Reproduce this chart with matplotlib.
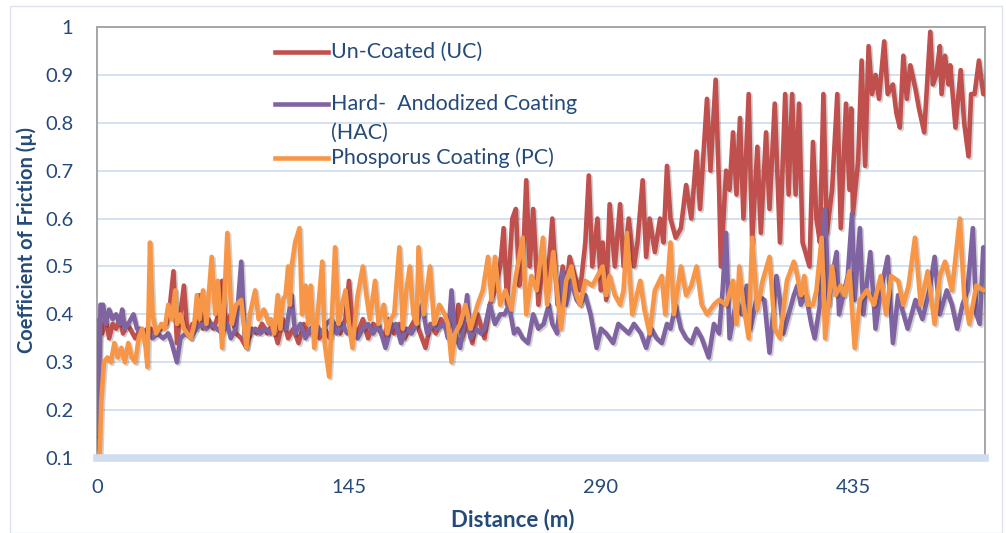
import matplotlib
matplotlib.use("Agg")
import matplotlib.pyplot as plt
import matplotlib.patheffects as pe
from matplotlib.lines import Line2D
from matplotlib.patches import Rectangle

###############################################################################
# Data (distance in m, coefficient of friction)

uc_dist = [0, 1.5, 3, 5, 7, 9, 11, 13, 15, 17, 19, 22, 25, 28, 31, 34, 37, 40, 42, 44,
           46, 48, 50, 52, 55, 57, 59, 61, 64, 67, 70, 72, 74, 77, 80, 83, 86, 89, 92, 95,
           98, 101, 104, 107, 110, 113, 116, 119, 122, 125, 128, 131, 134, 137, 140, 143,
           145, 147, 150, 153, 156, 159, 162, 165, 168, 171, 174, 177, 180, 183, 186, 189,
           192, 195, 198, 201, 204, 206, 208, 210, 213, 216, 219, 223, 226, 229, 232, 234,
           236, 239, 241, 243, 245, 247, 249, 251, 254, 257, 259, 262, 265, 268, 270, 272,
           275, 278, 281, 283, 285, 288, 290, 291, 293, 295, 298, 301, 303, 306, 309, 311,
           314, 316, 318, 321, 324, 326, 328, 330, 333, 336, 339, 342, 345, 347, 351, 353,
           356, 358, 359, 362, 364, 366, 368, 370, 372, 375, 377, 380, 382, 385, 387, 390,
           393, 396, 398, 400, 402, 404, 406, 410, 412, 414, 416, 418, 420, 423, 426, 428,
           431, 433, 434, 435, 438, 440, 442, 444, 446, 448, 450, 453, 455, 458, 460, 462,
           464, 466, 468, 471, 473, 476, 479.5, 481, 483, 485, 486, 488, 490, 491, 494, 497,
           499, 501.5, 503, 505, 507.5, 510]
uc_cof = [0.12, 0.39, 0.36, 0.39, 0.35, 0.38, 0.37, 0.39, 0.36, 0.38, 0.37, 0.35, 0.37, 0.36,
          0.37, 0.36, 0.37, 0.38, 0.42, 0.49, 0.34, 0.40, 0.46, 0.36, 0.38, 0.37, 0.44, 0.37,
          0.39, 0.37, 0.40, 0.47, 0.38, 0.40, 0.36, 0.35, 0.33, 0.37, 0.36, 0.38, 0.36, 0.38,
          0.34, 0.39, 0.35, 0.37, 0.34, 0.38, 0.36, 0.38, 0.35, 0.37, 0.35, 0.38, 0.36, 0.39,
          0.47, 0.38, 0.36, 0.39, 0.35, 0.38, 0.37, 0.35, 0.39, 0.36, 0.38, 0.35, 0.37, 0.39,
          0.36, 0.33, 0.38, 0.36, 0.39, 0.37, 0.40, 0.36, 0.42, 0.35, 0.38, 0.34, 0.40, 0.35,
          0.42, 0.45, 0.50, 0.58, 0.42, 0.60, 0.62, 0.46, 0.50, 0.68, 0.50, 0.62, 0.42, 0.52,
          0.45, 0.60, 0.42, 0.50, 0.45, 0.52, 0.48, 0.45, 0.55, 0.69, 0.50, 0.60, 0.45, 0.55,
          0.43, 0.63, 0.50, 0.63, 0.50, 0.60, 0.50, 0.55, 0.68, 0.52, 0.60, 0.53, 0.60, 0.55,
          0.71, 0.60, 0.56, 0.58, 0.67, 0.60, 0.74, 0.62, 0.85, 0.70, 0.89, 0.66, 0.50, 0.70,
          0.66, 0.78, 0.65, 0.81, 0.60, 0.86, 0.55, 0.75, 0.57, 0.78, 0.62, 0.84, 0.55, 0.86,
          0.65, 0.86, 0.65, 0.84, 0.55, 0.50, 0.76, 0.60, 0.55, 0.86, 0.57, 0.66, 0.86, 0.58,
          0.84, 0.66, 0.83, 0.61, 0.72, 0.93, 0.71, 0.96, 0.86, 0.90, 0.85, 0.97, 0.86, 0.88,
          0.82, 0.79, 0.94, 0.85, 0.92, 0.87, 0.83, 0.78, 0.99, 0.88, 0.90, 0.96, 0.86, 0.94,
          0.88, 0.92, 0.79, 0.91, 0.80, 0.73, 0.86, 0.86, 0.93, 0.86]

hac_dist = [0, 1, 2, 3.5, 5, 7, 9, 11, 13, 14.5, 16, 18, 21, 23, 26, 29, 32, 35, 38, 41, 43,
            46, 48, 51, 54, 57, 60, 63, 66, 69, 72, 75, 77, 80, 83, 85, 88, 91, 94, 97, 100,
            103, 106, 109, 112, 114, 117, 120, 123, 126, 129, 132, 135, 138, 141, 144, 147,
            150, 153, 156, 159, 162, 166, 169, 172, 175, 178, 181, 184, 187, 190, 193, 196,
            200, 202, 204, 206, 209, 211, 213, 215, 218, 221, 223, 226, 229, 232, 234.6, 237,
            240, 242, 245, 248, 251, 254, 257, 260, 262, 264.8, 268, 270, 273, 276, 278, 281,
            284, 287.5, 290, 293, 297, 300, 303, 306, 309, 313, 316, 319, 322, 325, 328, 330,
            333, 336, 339, 342, 345, 348, 352, 355, 358, 360, 362, 364, 368, 371, 374, 376,
            380, 384, 387, 391, 393, 395, 398, 401, 403, 405, 408, 411, 413, 416, 419, 421,
            423, 425.6, 427, 430, 432, 434.5, 436, 439, 441, 445, 448, 451, 455, 458, 461,
            466.5, 471, 475, 479, 482, 485, 489, 492, 495, 498, 501, 504, 506, 508, 510]
hac_cof = [0.15, 0.22, 0.42, 0.42, 0.38, 0.41, 0.39, 0.40, 0.38, 0.41, 0.37, 0.38, 0.40, 0.37,
           0.36, 0.37, 0.35, 0.36, 0.35, 0.36, 0.34, 0.30, 0.35, 0.36, 0.35, 0.37, 0.38, 0.37,
           0.38, 0.37, 0.36, 0.38, 0.35, 0.37, 0.51, 0.35, 0.36, 0.37, 0.36, 0.37, 0.36, 0.37,
           0.38, 0.37, 0.44, 0.36, 0.38, 0.35, 0.37, 0.38, 0.36, 0.38, 0.39, 0.36, 0.38, 0.36,
           0.37, 0.35, 0.37, 0.38, 0.36, 0.38, 0.33, 0.37, 0.38, 0.34, 0.37, 0.36, 0.38, 0.42,
           0.36, 0.38, 0.37, 0.38, 0.35, 0.45, 0.36, 0.33, 0.38, 0.44, 0.35, 0.37, 0.36, 0.37,
           0.42, 0.38, 0.40, 0.40, 0.42, 0.36, 0.37, 0.35, 0.34, 0.40, 0.37, 0.38, 0.42, 0.38,
           0.36, 0.49, 0.42, 0.47, 0.43, 0.42, 0.44, 0.40, 0.33, 0.37, 0.36, 0.34, 0.38, 0.37,
           0.36, 0.38, 0.36, 0.33, 0.37, 0.35, 0.34, 0.38, 0.37, 0.42, 0.37, 0.35, 0.34, 0.37,
           0.35, 0.31, 0.38, 0.36, 0.45, 0.57, 0.35, 0.43, 0.40, 0.46, 0.37, 0.44, 0.43, 0.32,
           0.48, 0.43, 0.36, 0.40, 0.44, 0.46, 0.42, 0.44, 0.38, 0.35, 0.42, 0.62, 0.42, 0.48,
           0.53, 0.40, 0.45, 0.48, 0.61, 0.43, 0.58, 0.40, 0.53, 0.37, 0.45, 0.52, 0.34, 0.44,
           0.37, 0.43, 0.39, 0.45, 0.52, 0.40, 0.45, 0.42, 0.37, 0.42, 0.45, 0.58, 0.40, 0.38,
           0.54]

pc_dist = [0, 1.5, 2.5, 4, 6, 8, 10, 12, 14, 16, 18, 20, 22, 24, 26, 28, 29, 30.5, 32, 34,
           37, 39, 41, 43, 45, 46, 48, 50, 52, 54, 56, 57.5, 59, 61, 63, 66, 68, 69.6, 72, 75,
           77.6, 80, 83, 86, 88, 91, 93, 96, 99, 100, 102, 104, 105.5, 107, 108.5, 110, 111,
           112, 114, 116.5, 118, 120, 121.5, 123, 125, 127, 129.6, 131, 133.6, 137, 139, 141,
           143, 145, 147, 150, 153, 155, 157, 160, 162, 165, 167, 169, 171, 174, 176, 178,
           180, 182, 184, 185, 188, 191.6, 194, 197, 200, 202, 204, 206, 209, 212, 215, 219,
           222, 225, 227, 229, 232, 235, 238.5, 241, 245, 247, 250, 253, 256.6, 259, 262.6,
           265, 267, 270, 273, 276, 278, 281, 285, 288, 291, 293, 295, 298, 301, 303, 305,
           308, 312.6, 315, 318, 321, 325, 327, 330, 332, 336, 339, 342, 345, 348, 351, 355,
           358, 362, 366, 368, 369.6, 372, 375, 377, 380, 383, 387, 390, 393, 397, 401, 403,
           405, 407, 409, 412, 414, 417, 419, 423, 425, 428, 430, 433, 436, 439, 443, 447,
           451, 454, 457, 461, 464, 467, 470.7, 474, 478, 482, 485, 488, 492, 496.5, 499, 502,
           506, 510]
pc_cof = [0.10, 0.10, 0.22, 0.30, 0.31, 0.30, 0.34, 0.31, 0.33, 0.30, 0.34, 0.31, 0.30, 0.35,
          0.37, 0.33, 0.29, 0.55, 0.40, 0.36, 0.38, 0.37, 0.42, 0.39, 0.45, 0.38, 0.40, 0.37,
          0.36, 0.35, 0.38, 0.44, 0.39, 0.45, 0.38, 0.52, 0.40, 0.47, 0.33, 0.57, 0.38, 0.42,
          0.43, 0.33, 0.40, 0.45, 0.39, 0.41, 0.38, 0.39, 0.36, 0.44, 0.37, 0.43, 0.44, 0.50,
          0.42, 0.50, 0.55, 0.58, 0.40, 0.46, 0.38, 0.46, 0.33, 0.40, 0.51, 0.34, 0.27, 0.54,
          0.38, 0.42, 0.45, 0.38, 0.33, 0.44, 0.50, 0.44, 0.39, 0.47, 0.38, 0.42, 0.36, 0.39,
          0.40, 0.54, 0.37, 0.45, 0.50, 0.40, 0.38, 0.54, 0.40, 0.50, 0.38, 0.42, 0.40, 0.38,
          0.30, 0.36, 0.38, 0.42, 0.37, 0.42, 0.45, 0.52, 0.43, 0.52, 0.42, 0.45, 0.41, 0.48,
          0.56, 0.40, 0.48, 0.45, 0.56, 0.42, 0.53, 0.44, 0.37, 0.47, 0.50, 0.44, 0.42, 0.47,
          0.46, 0.48, 0.50, 0.44, 0.48, 0.44, 0.42, 0.45, 0.57, 0.40, 0.47, 0.41, 0.36, 0.45,
          0.48, 0.40, 0.55, 0.40, 0.50, 0.44, 0.46, 0.50, 0.42, 0.40, 0.42, 0.43, 0.42, 0.47,
          0.38, 0.50, 0.42, 0.35, 0.56, 0.41, 0.47, 0.52, 0.37, 0.35, 0.47, 0.51, 0.48, 0.44,
          0.48, 0.42, 0.42, 0.45, 0.56, 0.35, 0.50, 0.44, 0.46, 0.44, 0.49, 0.33, 0.43, 0.45,
          0.42, 0.48, 0.40, 0.48, 0.47, 0.42, 0.46, 0.56, 0.42, 0.49, 0.38, 0.48, 0.51, 0.45,
          0.60, 0.44, 0.38, 0.46, 0.45]

series_names = ["Un-Coated (UC)", "Hard-  Andodized Coating\n(HAC)", "Phosporus Coating (PC)"]
series_colors = ["#C0504D", "#8064A2", "#F79646"]
x_ticks = [0, 145, 290, 435]
y_ticks = [0.1, 0.2, 0.3, 0.4, 0.5, 0.6, 0.7, 0.8, 0.9, 1]
y_ticklabels = ["0.1", "0.2", "0.3", "0.4", "0.5", "0.6", "0.7", "0.8", "0.9", "1"]

###############################################################################
# Plot

plt.rcParams['font.family'] = ['Lato', 'DejaVu Sans']
text_color = "#244A7A"

fig = plt.figure(figsize=(10.06, 5.33), dpi=100)
W, H = 1006, 533

# thin chart border
fig.add_artist(Rectangle((10 / W, 0), 992 / W, 1 - 6 / H, transform=fig.transFigure,
                         fill=False, edgecolor="#DCE3EC", linewidth=1))

ax = fig.add_axes([97 / W, 1 - 458 / H, (985 - 97) / W, (458 - 27) / H])

shadow = [pe.SimpleLineShadow(offset=(1.2, -1.2), alpha=0.18, shadow_color="black"),
          pe.Normal()]
for xs, ys, c in zip([uc_dist, hac_dist, pc_dist], [uc_cof, hac_cof, pc_cof], series_colors):
    ax.plot(xs, ys, color=c, linewidth=3.3, solid_joinstyle="round",
            solid_capstyle="round", path_effects=shadow, zorder=3)

ax.set_xlim(0, 511)
ax.set_ylim(0.1, 1.0)
ax.set_xticks(x_ticks)
ax.set_xticklabels([str(t) for t in x_ticks])
ax.set_yticks(y_ticks)
ax.set_yticklabels(y_ticklabels)
ax.tick_params(axis="both", length=0, labelsize=14.5, colors=text_color)
ax.tick_params(axis="y", pad=17)
ax.tick_params(axis="x", pad=15)

ax.grid(axis="y", color="#D5E1F0", linewidth=1.4, zorder=0)
ax.set_axisbelow(True)

for side in ["left", "top", "right"]:
    ax.spines[side].set_color("#A6A6A6")
    ax.spines[side].set_linewidth(1.4)
ax.spines["bottom"].set_color("#D0DEF0")
ax.spines["bottom"].set_linewidth(5.5)
ax.spines["bottom"].set_zorder(4)

fig.text(513 / W, 1 - 520 / H, "Distance (m)", ha="center", va="center",
         fontsize=16, fontweight="bold", color=text_color)
fig.text(27 / W, 1 - 240 / H, "Coefficient of Friction (\u00b5)", ha="center", va="center",
         rotation=90, fontsize=14.5, fontweight="bold", color=text_color)

# legend drawn by hand, as in the reference
legend_y = [52, 104, 158]
for name, c, py in zip(series_names, series_colors, legend_y):
    fig.add_artist(Line2D([275 / W, 328 / W], [1 - py / H, 1 - py / H],
                          transform=fig.transFigure, color=c, linewidth=3.3))
    lines = name.split("\n")
    for i, line in enumerate(lines):
        fig.text(331 / W, 1 - (py + i * 29) / H, line, ha="left", va="center",
                 fontsize=15.5, color=text_color)

fig.savefig("out.png", dpi=100)
